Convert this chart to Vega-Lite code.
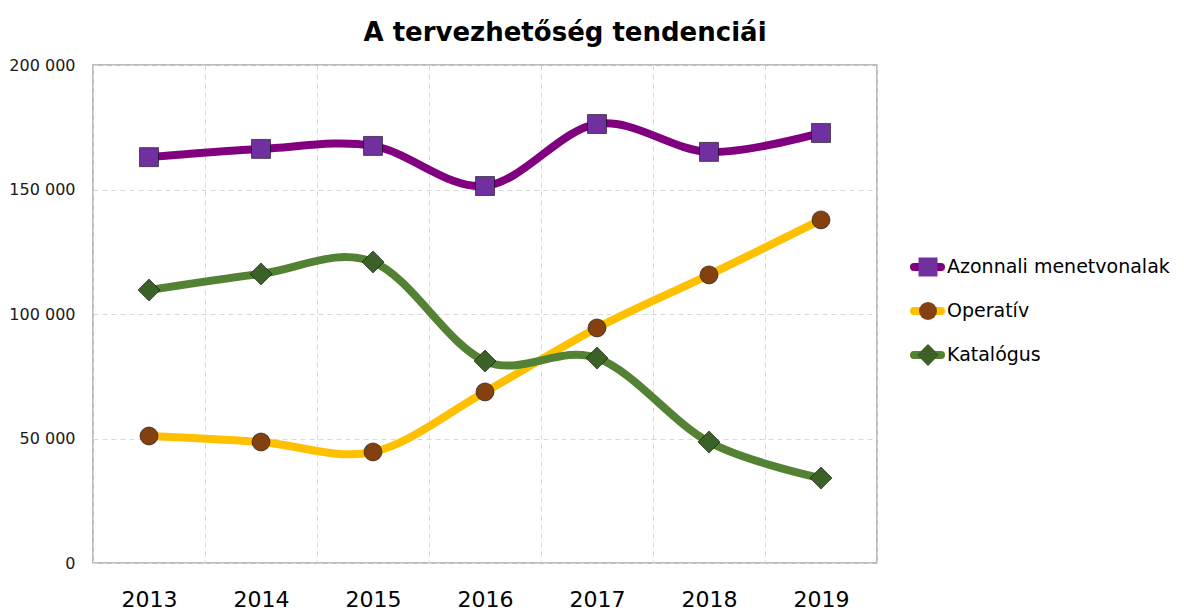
{
  "$schema": "https://vega.github.io/schema/vega-lite/v6.json",
  "width": 784,
  "height": 498,
  "autosize": {"type": "none"},
  "padding": {"left": 93, "top": 65, "right": 307, "bottom": 50},
  "background": "white",
  "title": {"text": "A tervezhetőség tendenciái", "font": "DejaVu Sans", "fontSize": 26, "fontWeight": "bold", "color": "#000000", "anchor": "middle", "frame": "group", "dx": 80, "offset": 11},
  "config": {"view": {"stroke": "#a6a6a6", "strokeWidth": 1.5}, "font": "DejaVu Sans"},
  "data": {"values": [
    {"year": "2013", "series": "Azonnali menetvonalak", "value": 163000},
    {"year": "2014", "series": "Azonnali menetvonalak", "value": 166300},
    {"year": "2015", "series": "Azonnali menetvonalak", "value": 167500},
    {"year": "2016", "series": "Azonnali menetvonalak", "value": 151400},
    {"year": "2017", "series": "Azonnali menetvonalak", "value": 176300},
    {"year": "2018", "series": "Azonnali menetvonalak", "value": 165100},
    {"year": "2019", "series": "Azonnali menetvonalak", "value": 172700},
    {"year": "2013", "series": "Operatív", "value": 51000},
    {"year": "2014", "series": "Operatív", "value": 48600},
    {"year": "2015", "series": "Operatív", "value": 44600},
    {"year": "2016", "series": "Operatív", "value": 68700},
    {"year": "2017", "series": "Operatív", "value": 94400},
    {"year": "2018", "series": "Operatív", "value": 115700},
    {"year": "2019", "series": "Operatív", "value": 137800},
    {"year": "2013", "series": "Katalógus", "value": 109600},
    {"year": "2014", "series": "Katalógus", "value": 116100},
    {"year": "2015", "series": "Katalógus", "value": 120900},
    {"year": "2016", "series": "Katalógus", "value": 81100},
    {"year": "2017", "series": "Katalógus", "value": 82300},
    {"year": "2018", "series": "Katalógus", "value": 48600},
    {"year": "2019", "series": "Katalógus", "value": 34100}
  ]},
  "encoding": {
    "x": {"field": "year", "type": "ordinal", "scale": {"type": "band", "paddingInner": 0, "paddingOuter": 0},
      "axis": {"title": null, "tickBand": "extent", "labelAngle": 0, "labelFontSize": 22, "labelColor": "#000000", "labelPadding": 26, "ticks": false, "domain": false, "grid": true, "gridDash": [5, 4], "gridColor": "#d9d9d9", "gridWidth": 1}},
    "y": {"field": "value", "type": "quantitative", "scale": {"domain": [0, 200000]},
      "axis": {"title": null, "values": [0, 50000, 100000, 150000, 200000], "labelExpr": "replace(format(datum.value, ','), ',', ' ')", "labelFontSize": 16, "labelColor": "#1a1a1a", "labelPadding": 18, "ticks": false, "domain": false, "grid": true, "gridDash": [5, 4], "gridColor": "#d9d9d9", "gridWidth": 1}}
  },
  "layer": [
    {
      "mark": {"type": "line", "interpolate": "cardinal", "tension": 0, "strokeWidth": 8, "strokeCap": "round"},
      "encoding": {
        "stroke": {"field": "series", "type": "nominal",
          "scale": {"domain": ["Azonnali menetvonalak", "Operatív", "Katalógus"], "range": ["#800080", "#ffc000", "#548235"]},
          "legend": {"orient": "none", "legendX": 817, "legendY": 184.5, "padding": 0, "title": null, "symbolType": "stroke", "symbolSize": 729, "symbolStrokeWidth": 8, "clipHeight": 35, "labelFontSize": 19, "labelColor": "#000000", "labelOffset": 2, "labelLimit": 300, "rowPadding": 9,
            "encode": {"symbols": {"update": {"strokeCap": {"value": "round"}}}}}}
      }
    },
    {
      "mark": {"type": "point", "filled": true, "opacity": 1, "strokeWidth": 1, "strokeOpacity": 0.55},
      "encoding": {
        "fill": {"field": "series", "type": "nominal",
          "scale": {"domain": ["Azonnali menetvonalak", "Operatív", "Katalógus"], "range": ["#7030a0", "#85400f", "#3b6128"]},
          "legend": {"orient": "right", "offset": -145, "padding": 184.5, "title": null, "symbolStrokeWidth": 1, "symbolStrokeColor": "#000000", "clipHeight": 35, "labelExpr": "''", "labelFontSize": 19, "rowPadding": 9}},
        "shape": {"field": "series", "type": "nominal",
          "scale": {"domain": ["Azonnali menetvonalak", "Operatív", "Katalógus"], "range": ["square", "circle", "diamond"]},
          "legend": {"orient": "right", "offset": -145, "padding": 184.5, "title": null, "symbolStrokeWidth": 1, "symbolStrokeColor": "#000000", "clipHeight": 35, "labelExpr": "''", "labelFontSize": 19, "rowPadding": 9}},
        "size": {"field": "series", "type": "nominal",
          "scale": {"type": "ordinal", "domain": ["Azonnali menetvonalak", "Operatív", "Katalógus"], "range": [361, 324, 484]},
          "legend": {"orient": "right", "offset": -145, "padding": 184.5, "title": null, "symbolStrokeWidth": 1, "symbolStrokeColor": "#000000", "clipHeight": 35, "labelExpr": "''", "labelFontSize": 19, "rowPadding": 9}},
        "stroke": {"value": "#000000"}
      }
    }
  ]
}
